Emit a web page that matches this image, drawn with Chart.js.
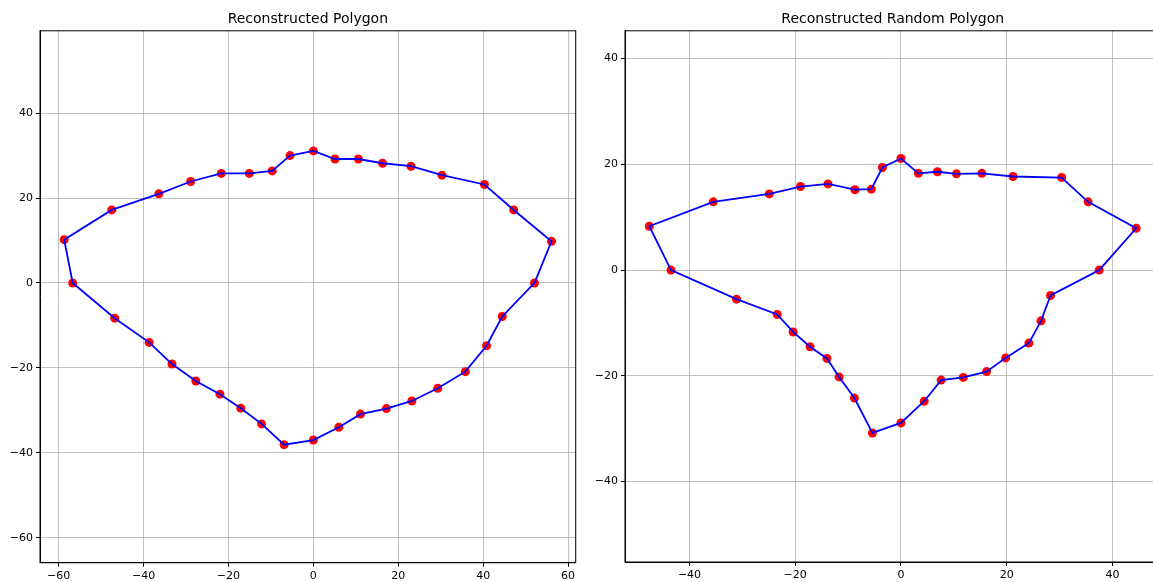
<!DOCTYPE html>
<html>
<head>
<meta charset="utf-8">
<script src="https://cdn.jsdelivr.net/npm/chart.js@4.4.1/dist/chart.umd.min.js"></script>
<style>
  html, body { margin: 0; padding: 0; overflow: hidden; background: #fff; }
  #left { position: absolute; left: 0; top: 0; }
  #right { position: absolute; left: 585px; top: 0; }
</style>
</head>
<body>
<canvas id="left" width="590" height="582"></canvas>
<canvas id="right" width="580" height="582"></canvas>
<script>
// left polygon vertices, in drawing order
const leftX = [52.1, 56.1, 47.2, 40.3, 30.3, 23.0, 16.3, 10.6, 5.1, 0.0, -5.5, -9.7, -15.1, -21.7, -28.9, -36.4, -47.5, -58.7,
  -56.7, -46.8, -38.7, -33.3, -27.7, -22.0, -17.1, -12.2, -6.9, 0.0, 6.0, 11.1, 17.2, 23.2, 29.3, 35.8, 40.8, 44.5];
const leftY = [0.0, 9.8, 17.2, 23.2, 25.4, 27.5, 28.2, 29.2, 29.2, 31.1, 30.0, 26.4, 25.8, 25.8, 23.9, 21.0, 17.2, 10.2,
  0.0, -8.3, -14.0, -19.1, -23.1, -26.2, -29.5, -33.2, -38.1, -37.0, -34.0, -30.9, -29.6, -27.8, -24.8, -20.9, -14.8, -7.9];

// random polygon vertices
const rightX = [37.5, 44.5, 35.4, 30.4, 21.2, 15.3, 10.5, 6.9, 3.3, 0.0, -3.5, -5.6, -8.7, -13.8, -19.0, -24.9, -35.5, -47.6,
  -43.5, -31.1, -23.4, -20.4, -17.2, -14.0, -11.7, -8.8, -5.4, 0.0, 4.4, 7.6, 11.8, 16.2, 19.8, 24.2, 26.5, 28.3];
const rightY = [0.0, 7.9, 12.9, 17.5, 17.7, 18.3, 18.2, 18.6, 18.3, 21.1, 19.4, 15.3, 15.2, 16.3, 15.8, 14.4, 12.9, 8.3,
  0.0, -5.5, -8.4, -11.7, -14.5, -16.7, -20.2, -24.2, -30.8, -28.9, -24.8, -20.8, -20.3, -19.2, -16.6, -13.8, -9.6, -4.8];

const leftXTicks = [-60, -40, -20, 0, 20, 40, 60];
const leftYTicks = [-60, -40, -20, 0, 20, 40];
const rightXTicks = [-40, -20, 0, 20, 40];
const rightYTicks = [-40, -20, 0, 20, 40];

Chart.defaults.font.family = 'DejaVu Sans';
Chart.defaults.font.size = 11;
Chart.defaults.color = '#000';

// box around the plot area, like the matplotlib spines
const frame = {
  id: 'frame',
  afterDatasetsDraw(chart) {
    const a = chart.chartArea;
    const c = chart.ctx;
    c.save();
    c.strokeStyle = '#000';
    c.lineWidth = 1;
    c.strokeRect(a.left, a.top, a.right - a.left, a.bottom - a.top);
    c.restore();
  }
};

function points(xs, ys) {
  return xs.map((x, i) => ({ x: x, y: ys[i] }));
}

function axis(min, max, tickList, fit) {
  return {
    type: 'linear',
    min: min,
    max: max,
    afterBuildTicks: s => { s.ticks = tickList.map(v => ({ value: v })); },
    afterFit: fit,
    grid: { color: '#b0b0b0', lineWidth: 0.8, tickColor: '#000', tickWidth: 1, tickLength: 4 },
    border: { color: '#000', width: 1 },
    ticks: { padding: 3, callback: v => String(v).replace('-', '\u2212') }
  };
}

function makeChart(id, title, xs, ys, xr, yr, xTicks, yTicks, xHeight, rightPad) {
  const pts = points(xs, ys);
  new Chart(document.getElementById(id), {
    type: 'scatter',
    data: {
      datasets: [
        {
          data: pts.concat([pts[0]]),
          showLine: true,
          borderColor: '#0000ff',
          borderWidth: 1.8,
          pointRadius: 0,
          fill: false
        },
        {
          data: pts,
          pointRadius: 4.5,
          backgroundColor: '#ff0000',
          borderWidth: 0
        }
      ]
    },
    options: {
      responsive: false,
      animation: false,
      devicePixelRatio: 1,
      layout: { padding: { left: 0, right: rightPad, top: 0, bottom: 0 } },
      scales: {
        x: axis(xr[0], xr[1], xTicks, s => { s.height = xHeight; }),
        y: axis(yr[0], yr[1], yTicks, s => { s.width = 40; })
      },
      plugins: {
        legend: { display: false },
        tooltip: { enabled: false },
        title: {
          display: true,
          text: title,
          color: '#000',
          fullSize: false,
          font: { size: 14, weight: 'normal' },
          padding: { top: 11, bottom: 3 }
        }
      }
    },
    plugins: [frame]
  });
}

makeChart('left', 'Reconstructed Polygon', leftX, leftY, [-64.4, 61.8], [-65.9, 59.4],
  leftXTicks, leftYTicks, 19.3, 14.3);
makeChart('right', 'Reconstructed Random Polygon', rightX, rightY, [-52.2, 49.1], [-55.2, 45.25],
  rightXTicks, rightYTicks, 20, 0);
</script>
</body>
</html>
